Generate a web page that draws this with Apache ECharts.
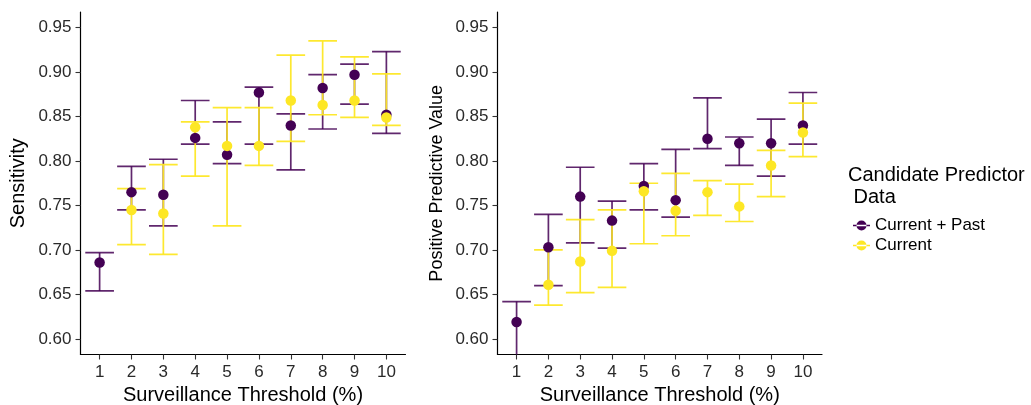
<!DOCTYPE html>
<html>
<head>
<meta charset="utf-8">
<script src="https://cdn.jsdelivr.net/npm/echarts@6/dist/echarts.min.js"></script>
<style>
html,body{margin:0;padding:0;background:#fff;}
#chart{width:1031px;height:405px;}
</style>
</head>
<body>
<div id="chart"></div>
<script>
// ---- data ----
const thresholds = [1, 2, 3, 4, 5, 6, 7, 8, 9, 10];
const yTicks = [0.60, 0.65, 0.70, 0.75, 0.80, 0.85, 0.90, 0.95];
const seriesNames = ['Current + Past', 'Current'];

const sensPast   = [0.686, 0.765, 0.762, 0.826, 0.807, 0.877, 0.840, 0.882, 0.897, 0.852];
const sensPastLo = [0.654, 0.745, 0.727, 0.819, 0.797, 0.819, 0.790, 0.836, 0.864, 0.831];
const sensPastHi = [0.697, 0.794, 0.802, 0.868, 0.844, 0.883, 0.853, 0.897, 0.909, 0.923];
const sensCur    = [null, 0.745, 0.741, 0.838, 0.817, 0.817, 0.868, 0.863, 0.868, 0.849];
const sensCurLo  = [null, 0.706, 0.695, 0.783, 0.727, 0.795, 0.822, 0.852, 0.849, 0.840];
const sensCurHi  = [null, 0.769, 0.796, 0.844, 0.860, 0.860, 0.919, 0.935, 0.917, 0.898];

const ppvPast   = [0.619, 0.703, 0.760, 0.733, 0.772, 0.756, 0.825, 0.820, 0.820, 0.840];
const ppvPastLo = [0.570, 0.660, 0.708, 0.702, 0.745, 0.737, 0.814, 0.795, 0.783, 0.819];
const ppvPastHi = [0.642, 0.740, 0.793, 0.755, 0.797, 0.813, 0.871, 0.827, 0.847, 0.877];
const ppvCur    = [null, 0.661, 0.687, 0.699, 0.766, 0.744, 0.765, 0.749, 0.795, 0.832];
const ppvCurLo  = [null, 0.638, 0.652, 0.658, 0.707, 0.716, 0.739, 0.732, 0.760, 0.805];
const ppvCurHi  = [null, 0.700, 0.734, 0.745, 0.775, 0.786, 0.778, 0.774, 0.812, 0.865];

// ---- styling ----
const PURPLE = '#440154';
const YELLOW = '#FDE725';
const FONT = '"Liberation Sans", Arial, Helvetica, sans-serif';

function pts(vals) {
  const out = [];
  thresholds.forEach((t, i) => { if (vals[i] != null) out.push([t, vals[i]]); });
  return out;
}
function bars(lo, hi) {
  const out = [];
  thresholds.forEach((t, i) => { if (lo[i] != null && hi[i] != null) out.push([t, lo[i], hi[i]]); });
  return out;
}

function errRender(color, opacity) {
  return function (params, api) {
    const x = api.value(0), lo = api.value(1), hi = api.value(2);
    const pLo = api.coord([x, lo]);
    const pHi = api.coord([x, hi]);
    const hw = api.size([0.9, 0])[0] / 2;
    const st = { stroke: color, lineWidth: 1.7, opacity: opacity };
    return {
      type: 'group',
      children: [
        { type: 'line', shape: { x1: pLo[0], y1: pLo[1], x2: pHi[0], y2: pHi[1] }, style: st },
        { type: 'line', shape: { x1: pHi[0] - hw, y1: pHi[1], x2: pHi[0] + hw, y2: pHi[1] }, style: st },
        { type: 'line', shape: { x1: pLo[0] - hw, y1: pLo[1], x2: pLo[0] + hw, y2: pLo[1] }, style: st }
      ]
    };
  };
}

function xAxis(gi) {
  return {
    type: 'value', gridIndex: gi, min: 0.4, max: 10.6,
    name: 'Surveillance Threshold (%)', nameLocation: 'middle', nameGap: 30,
    nameTextStyle: { fontFamily: FONT, fontSize: 20, color: '#000' },
    axisLine: { lineStyle: { color: '#000', width: 1.2 } },
    axisTick: { length: 5, lineStyle: { color: '#333', width: 1.1 }, customValues: thresholds },
    axisLabel: { customValues: thresholds, margin: 9, fontFamily: FONT, fontSize: 17, color: '#2a2a2a' },
    splitLine: { show: false }
  };
}
function yAxis(gi, name, gap, nameSize) {
  return {
    type: 'value', gridIndex: gi, min: 0.5825, max: 0.9675,
    name: name, nameLocation: 'middle', nameGap: gap,
    nameTextStyle: { fontFamily: FONT, fontSize: nameSize, color: '#000' },
    axisLine: { show: true, lineStyle: { color: '#000', width: 1.2 } },
    axisTick: { show: true, length: 5, lineStyle: { color: '#333', width: 1.1 }, customValues: yTicks },
    axisLabel: { customValues: yTicks, margin: 9, fontFamily: FONT, fontSize: 17, color: '#2a2a2a',
      formatter: v => v.toFixed(2) },
    splitLine: { show: false }
  };
}

const panels = [
  { past: sensPast, pastLo: sensPastLo, pastHi: sensPastHi, cur: sensCur, curLo: sensCurLo, curHi: sensCurHi },
  { past: ppvPast, pastLo: ppvPastLo, pastHi: ppvPastHi, cur: ppvCur, curLo: ppvCurLo, curHi: ppvCurHi }
];

const series = [];
panels.forEach((p, gi) => {
  series.push({ type: 'custom', name: seriesNames[0], xAxisIndex: gi, yAxisIndex: gi, clip: true,
    itemStyle: { color: PURPLE }, renderItem: errRender(PURPLE, 0.85), data: bars(p.pastLo, p.pastHi), z: 2 });
  series.push({ type: 'custom', name: seriesNames[1], xAxisIndex: gi, yAxisIndex: gi, clip: true,
    itemStyle: { color: YELLOW }, renderItem: errRender(YELLOW, 0.95), data: bars(p.curLo, p.curHi), z: 3 });
  series.push({ type: 'scatter', name: seriesNames[0], xAxisIndex: gi, yAxisIndex: gi,
    symbol: 'circle', symbolSize: 10.5, itemStyle: { color: PURPLE, opacity: 1 }, data: pts(p.past), z: 4 });
  series.push({ type: 'scatter', name: seriesNames[1], xAxisIndex: gi, yAxisIndex: gi,
    symbol: 'circle', symbolSize: 10.5, itemStyle: { color: YELLOW, opacity: 1 }, data: pts(p.cur), z: 5 });
});

const legendIcon = 'path://M0,4.2 L17,4.2 L17,5.8 L0,5.8 Z M3.5,5 A5,5 0 1 0 13.5,5 A5,5 0 1 0 3.5,5 Z';

const option = {
  backgroundColor: '#fff',
  animation: false,
  grid: [
    { left: 80.5, top: 12, width: 325, height: 342.5, containLabel: false, outerBoundsMode: 'none' },
    { left: 497.5, top: 12, width: 324.5, height: 342.5, containLabel: false, outerBoundsMode: 'none' }
  ],
  xAxis: [xAxis(0), xAxis(1)],
  yAxis: [yAxis(0, 'Sensitivity', 52, 20), yAxis(1, 'Positive Predictive Value', 51, 18)],
  legend: {
    orient: 'vertical', left: 848, top: 212, itemGap: 3,
    itemWidth: 17, itemHeight: 10, icon: legendIcon,
    textStyle: { fontFamily: FONT, fontSize: 17, color: '#000' },
    data: [
      { name: seriesNames[0], itemStyle: { color: PURPLE } },
      { name: seriesNames[1], itemStyle: { color: YELLOW } }
    ]
  },
  graphic: [
    { type: 'text', left: 848, top: 164,
      style: { text: 'Candidate Predictor\n Data', fontFamily: FONT, fontSize: 20, lineHeight: 22, fill: '#000' } }
  ],
  series: series
};

const chart = echarts.init(document.getElementById('chart'), null, { renderer: 'canvas' });
chart.setOption(option);
</script>
</body>
</html>
